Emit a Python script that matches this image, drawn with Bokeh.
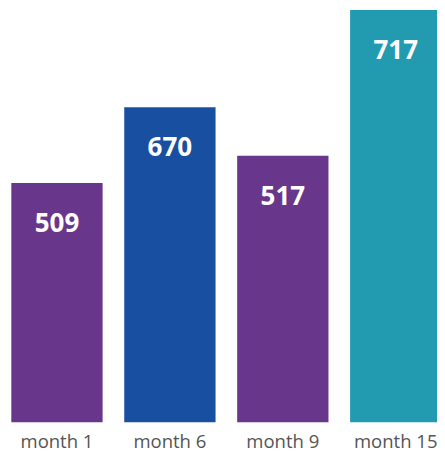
from bokeh.plotting import figure
from bokeh.models import ColumnDataSource, Range1d, FixedTicker
from bokeh.core.properties import value
from bokeh.embed import file_html
from bokeh.resources import INLINE

# Data
categories = ["month 1", "month 6", "month 9", "month 15"]
value_labels = ["509", "670", "517", "717"]
# bar lengths as drawn in the picture (not to scale with labels)
bar_heights = [509, 670, 567, 877]
colors = ["#68368A", "#184FA0", "#68368A", "#229AB0"]

W, H = 437, 455
step = 112.93  # px per category

xs = list(range(len(categories)))
src = ColumnDataSource(dict(x=xs, h=bar_heights, lab=value_labels, c=colors))

p = figure(width=W, height=H, output_backend="svg", toolbar_location=None,
           x_range=Range1d(-0.5, -0.5 + W / step), y_range=Range1d(0, 897),
           min_border=0, min_border_bottom=29)
p.outline_line_color = None
p.background_fill_color = "white"
p.border_fill_color = "white"
p.grid.visible = False
p.yaxis.visible = False

p.vbar(x="x", top="h", width=91.3 / step, bottom=0, fill_color="c", line_color=None, source=src)
p.text(x="x", y="h", text="lab", source=src, text_align="center", text_baseline="alphabetic",
       y_offset=39.5, text_color="white", text_font=value("Open Sans"), text_font_style="bold",
       text_font_size="26px")

ax = p.xaxis[0]
ax.ticker = FixedTicker(ticks=xs)
ax.major_label_overrides = {i: c for i, c in zip(xs, categories)}
ax.axis_line_color = None
ax.major_tick_line_color = None
ax.minor_tick_line_color = None
ax.major_tick_out = 0
ax.major_tick_in = 0
ax.major_label_standoff = 5
ax.major_label_text_font = "Open Sans"
ax.major_label_text_font_size = "18.5px"
ax.major_label_text_color = "#555555"

open("out.html", "w").write(file_html(p, INLINE))
